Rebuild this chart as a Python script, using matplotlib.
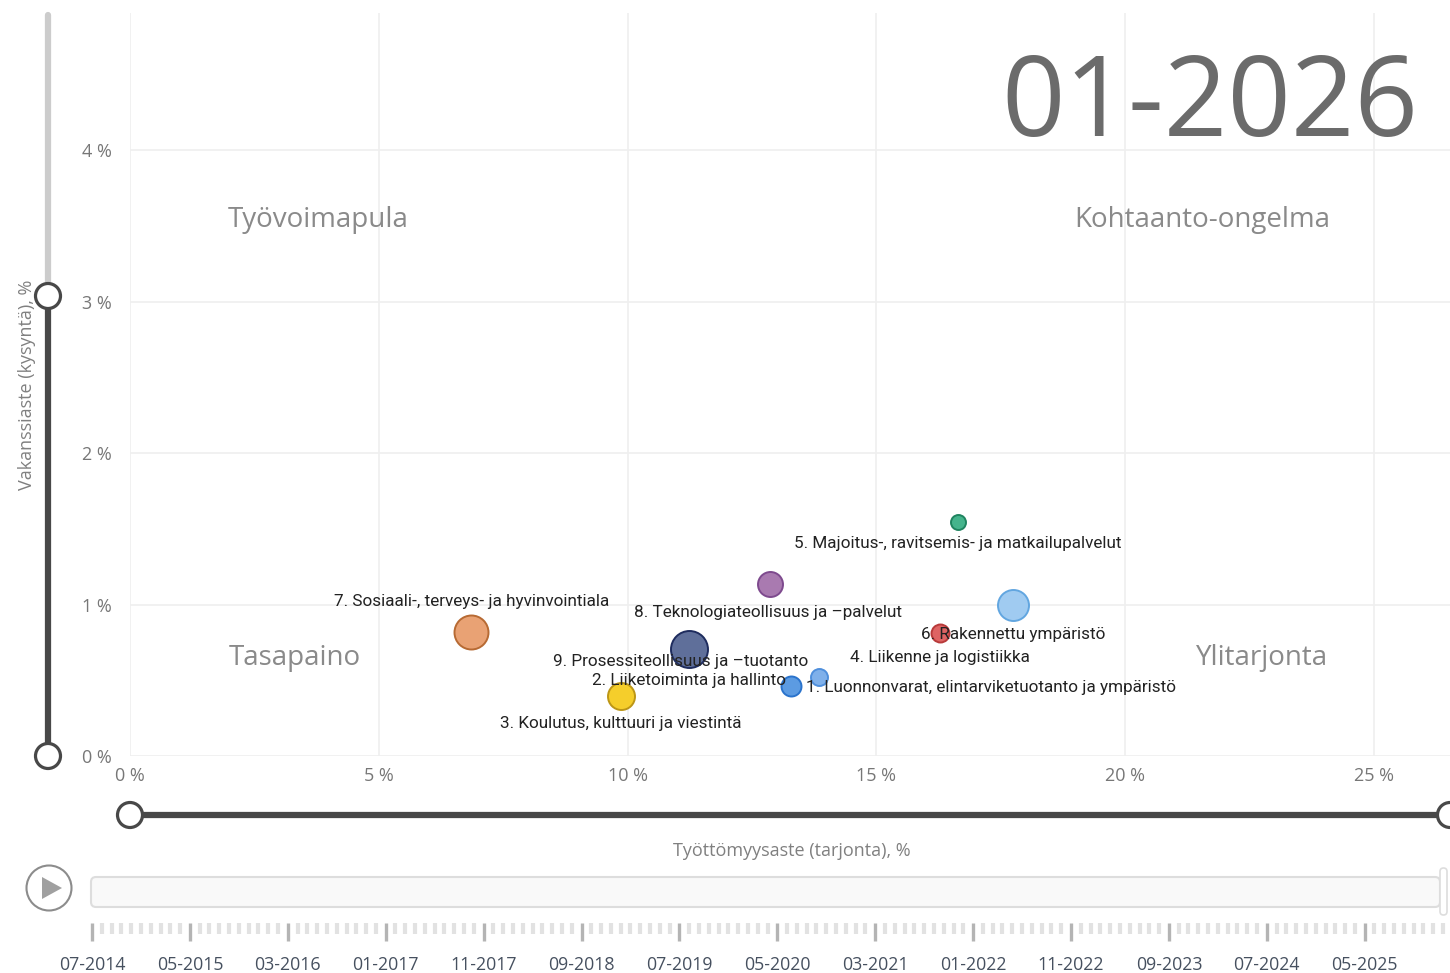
import matplotlib
matplotlib.use('Agg')
import matplotlib.pyplot as plt
from matplotlib.patches import Circle, FancyBboxPatch, Polygon

W, H = 1450, 973

# sector values, 01-2026
sectors = ['1. Luonnonvarat, elintarviketuotanto ja ympäristö',
           '2. Liiketoiminta ja hallinto',
           '3. Koulutus, kulttuuri ja viestintä',
           '4. Liikenne ja logistiikka',
           '5. Majoitus-, ravitsemis- ja matkailupalvelut',
           '6. Rakennettu ympäristö',
           '7. Sosiaali-, terveys- ja hyvinvointiala',
           '8. Teknologiateollisuus ja –palvelut',
           '9. Prosessiteollisuus ja –tuotanto']
unemployment = [13.28, 13.85, 9.87, 16.28, 16.64, 17.75, 6.85, 12.86, 11.23]
vacancy = [0.462, 0.52, 0.396, 0.81, 1.545, 1.0, 0.82, 1.135, 0.706]
bubble = [20, 17, 27, 18, 15, 31, 34, 25, 37]

x_ticks = [0, 5, 10, 15, 20, 25]
y_ticks = [0, 1, 2, 3, 4]
time_labels = ['07-2014', '05-2015', '03-2016', '01-2017', '11-2017', '09-2018', '07-2019',
               '05-2020', '03-2021', '01-2022', '11-2022', '09-2023', '07-2024', '05-2025']

fills = ['#5C9BE2', '#7FB0EA', '#F5CE2B', '#DE6464', '#45B48C', '#A0CBF1', '#E9A274', '#A97AB0', '#5F6F9A']
edges = ['#2A73CC', '#4F8FDC', '#BC9616', '#B83A3A', '#1F8460', '#62A6E0', '#B76A33', '#7E4A8E', '#1E2C5E']
# label shift from the bubble centre in pixels (dx, dy up), and alignment
label_pos = [(15, -1, 'left'), (-33, -3, 'right'), (0, -27, 'center'), (0, -24, 'center'), (0, -22, 'center'),
             (0, -30, 'center'), (1, 30, 'center'), (-2, -28, 'center'), (-8, -12, 'center')]

plt.rcParams['font.family'] = ['Open Sans', 'DejaVu Sans']
fig = plt.figure(figsize=(W / 100, H / 100), dpi=100)

# main scatter
ax = fig.add_axes([130 / W, (H - 756) / H, 1320 / W, 743 / H])
ax.set_xlim(0, 1320 / 49.76)
ax.set_ylim(0, 743 / 151.5)
ax.set_xticks(x_ticks, [f'{v} %' for v in x_ticks])
ax.set_yticks(y_ticks, [f'{v} %' for v in y_ticks])
ax.tick_params(length=0, labelsize=13, labelcolor='#777777')
ax.tick_params(axis='x', pad=8)
ax.tick_params(axis='y', pad=13)
ax.grid(color='#EFEFEF', lw=1.2)
ax.set_axisbelow(True)
for s in ax.spines.values():
    s.set_visible(False)

for i in range(len(sectors)):
    ax.scatter(unemployment[i], vacancy[i], s=(bubble[i] * 0.72) ** 2, color=fills[i], edgecolor=edges[i],
               linewidth=1.4, zorder=3, clip_on=False)
    dx, dy, ha = label_pos[i]
    ax.annotate(sectors[i], (unemployment[i], vacancy[i]), xytext=(dx * 0.72, dy * 0.72),
                textcoords='offset points', ha=ha, va='center', fontsize=12.3, family=['Roboto'],
                color='#222222', zorder=4)

# big date and quadrant names
fig.text(1418 / W, 1 - 107 / H, '01-2026', ha='right', va='center', fontsize=80, color='#6B6B6B')
for x, y, t in [(318, 220, 'Työvoimapula'), (1202, 220, 'Kohtaanto-ongelma'),
                (295, 658, 'Tasapaino'), (1262, 658, 'Ylitarjonta')]:
    fig.text(x / W, 1 - y / H, t, ha='center', va='center', fontsize=20, color='#8A8A8A')
fig.text(27 / W, 1 - 385 / H, 'Vakanssiaste (kysyntä), %', rotation=90, ha='center', va='center',
         fontsize=13, color='#808080')
fig.text(792 / W, 1 - 851 / H, 'Työttömyysaste (tarjonta), %', ha='center', va='center',
         fontsize=13, color='#808080')

# sliders and play control, in pixel coordinates
ov = fig.add_axes([0, 0, 1, 1], facecolor='none')
ov.set_xlim(0, W)
ov.set_ylim(H, 0)
ov.axis('off')
ov.plot([48, 48], [15, 296], color='#CCCCCC', lw=4.5, solid_capstyle='round')
ov.plot([48, 48], [296, 756], color='#484848', lw=4.5)
ov.plot([130, W + 5], [815, 815], color='#484848', lw=4.5)
for cx, cy in [(48, 296), (48, 756), (130, 815), (1450, 815)]:
    ov.add_patch(Circle((cx, cy), 12.5, fc='white', ec='#484848', lw=2.3, zorder=5, clip_on=True))
ov.add_patch(Circle((49, 888), 22.5, fc='white', ec='#8C8C8C', lw=1.5))
ov.add_patch(Polygon([(42, 877), (42, 899), (62, 888)], fc='#A0A0A0', ec='none'))
ov.add_patch(FancyBboxPatch((91, 877), 1349, 30, boxstyle='round,pad=0,rounding_size=5', fc='#F9F9F9',
                            ec='#DDDDDD', lw=1.5))
ov.add_patch(FancyBboxPatch((1440, 868), 7, 47, boxstyle='round,pad=0,rounding_size=3.5', fc='white',
                            ec='#DDDDDD', lw=1.2))

# timeline ticks
tl = fig.add_axes([92 / W, (H - 923) / H, (W - 92) / W, 0.001], facecolor='none')
tl.set_xlim(0, (W - 92) / 9.79)
tl.set_yticks([])
for s in tl.spines.values():
    s.set_visible(False)
tl.set_xticks(range(0, 140, 10), time_labels)
tl.set_xticks([m for m in range(0, 139) if m % 10], minor=True)
tl.tick_params(axis='x', which='major', length=13, width=2.4, color='#B4B4B4', pad=11, labelsize=12.8,
               labelcolor='#46505F')
tl.tick_params(axis='x', which='minor', length=8, width=3, color='#E2E2E2')

fig.savefig('out.png', dpi=100)
